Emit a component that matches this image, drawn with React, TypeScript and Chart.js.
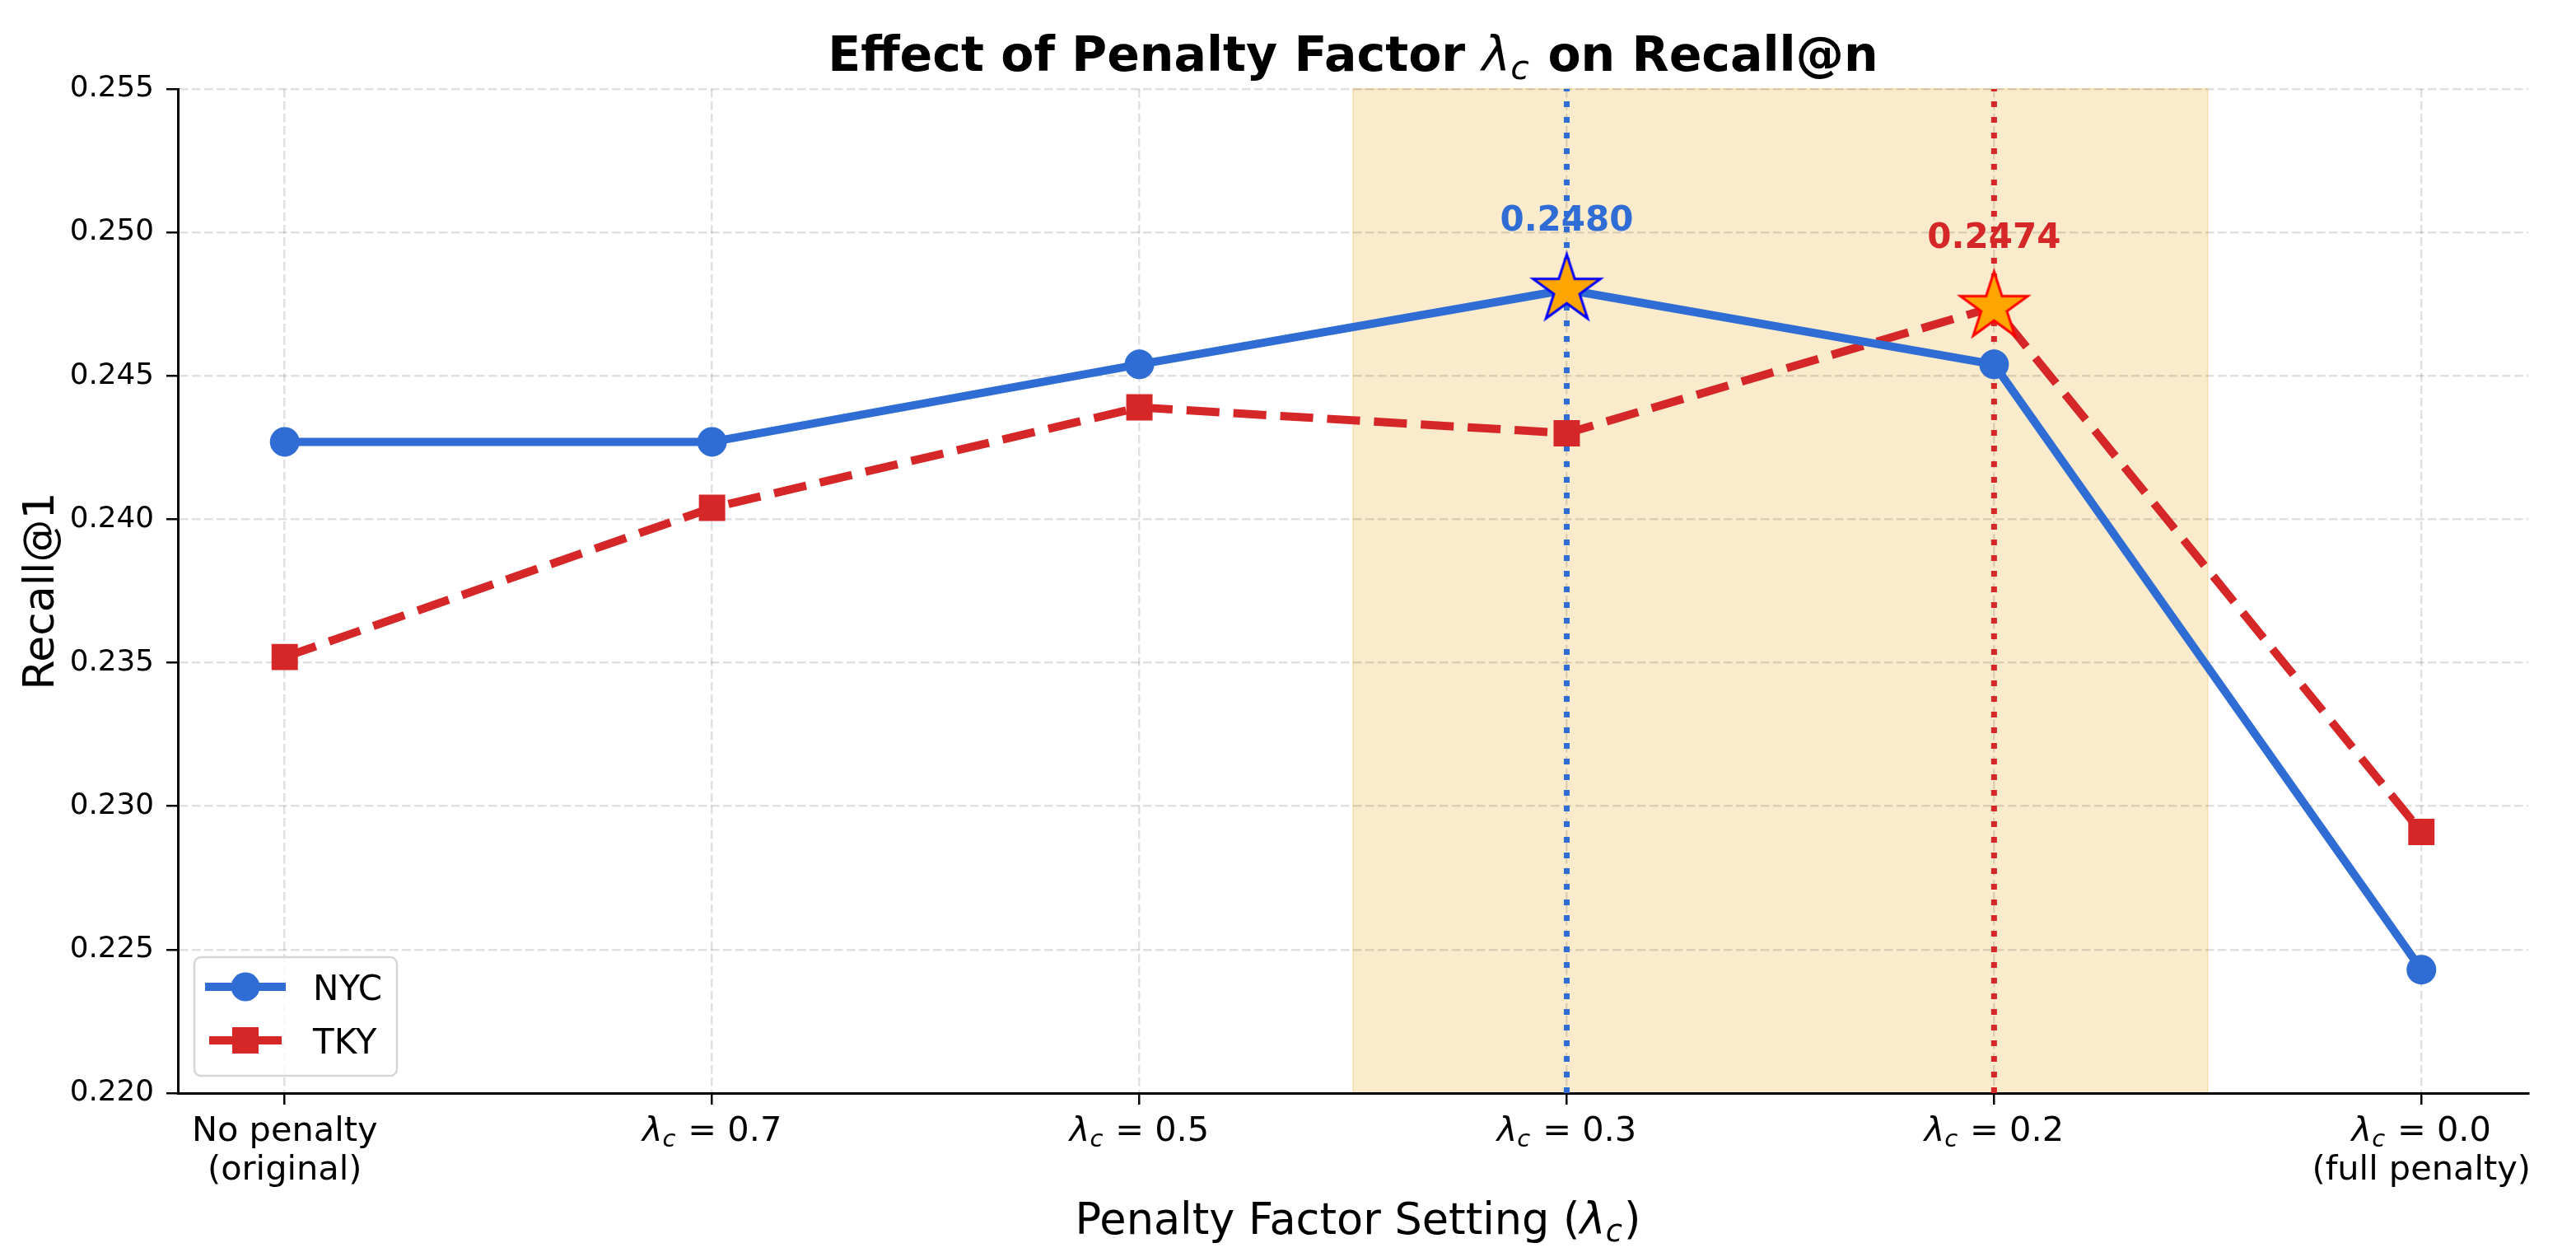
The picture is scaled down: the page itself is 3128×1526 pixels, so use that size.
import React, { useEffect, useRef } from 'react';
import { Chart, registerables } from 'chart.js';

Chart.register(...registerables);

// ---- data ----
const xPositions = [0, 1, 2, 3, 4, 5];
const xTickLabels = [
    'No penalty\n(original)',
    'λ_c = 0.7',
    'λ_c = 0.5',
    'λ_c = 0.3',
    'λ_c = 0.2',
    'λ_c = 0.0\n(full penalty)'
];
const nycRecall = [0.2427, 0.2427, 0.2454, 0.2480, 0.2454, 0.2243];
const tkyRecall = [0.2352, 0.2404, 0.2439, 0.2430, 0.2474, 0.2291];
const yTicks = [0.220, 0.225, 0.230, 0.235, 0.240, 0.245, 0.250, 0.255];
const shadedRange = [2.5, 4.5];

const BLUE = '#2f6cd3';
const RED = '#d62728';
const FONT = '"DejaVu Sans", "Noto Sans", sans-serif';

const W = 3128;
const H = 1526;

type Seg = { t: string; it?: boolean; sub?: boolean };

// split "λ_c" into italic lambda + italic subscript c
function parseMath(s: string): Seg[] {
    const out: Seg[] = [];
    s.split(/(λ_c)/).forEach((p) => {
        if (p === 'λ_c') {
            out.push({ t: 'λ', it: true });
            out.push({ t: 'c', it: true, sub: true });
        } else if (p) {
            out.push({ t: p });
        }
    });
    return out;
}

function drawRich(
    ctx: CanvasRenderingContext2D,
    text: string,
    x: number,
    y: number,
    size: number,
    weight: string,
    color: string
) {
    const segs = parseMath(text);
    const fontOf = (s: Seg) =>
        `${s.it ? 'italic ' : ''}${s.it ? 'normal' : weight} ${s.sub ? size * 0.7 : size}px ${FONT}`;
    const widths = segs.map((s) => {
        ctx.font = fontOf(s);
        return ctx.measureText(s.t).width + (s.sub ? size * 0.04 : 0);
    });
    const total = widths.reduce((a, b) => a + b, 0);
    let cx = x - total / 2;
    ctx.fillStyle = color;
    ctx.textAlign = 'left';
    ctx.textBaseline = 'alphabetic';
    segs.forEach((s, i) => {
        ctx.font = fontOf(s);
        ctx.fillText(s.t, cx, y + (s.sub ? size * 0.17 : 0));
        cx += widths[i];
    });
}

function makeStar(edge: string): HTMLCanvasElement {
    const c = document.createElement('canvas');
    c.width = 100;
    c.height = 100;
    const g = c.getContext('2d')!;
    const R = 43;
    const r = R * 0.381966;
    g.beginPath();
    for (let k = 0; k < 10; k++) {
        const rad = k % 2 === 0 ? R : r;
        const a = -Math.PI / 2 + (k * Math.PI) / 5;
        const px = 50 + rad * Math.cos(a);
        const py = 50 + rad * Math.sin(a);
        if (k === 0) g.moveTo(px, py);
        else g.lineTo(px, py);
    }
    g.closePath();
    g.fillStyle = '#FFA500';
    g.fill();
    g.lineWidth = 3;
    g.lineJoin = 'miter';
    g.strokeStyle = edge;
    g.stroke();
    return c;
}

const argmax = (arr: number[]) => arr.indexOf(Math.max(...arr));

export default function App() {
    const canvasRef = useRef<HTMLCanvasElement>(null);
    const chartRef = useRef<Chart | null>(null);

    useEffect(() => {
        if (!canvasRef.current) return;
        if (chartRef.current) chartRef.current.destroy();
        const ctx = canvasRef.current.getContext('2d');
        if (!ctx) return;

        const nycBest = argmax(nycRecall);
        const tkyBest = argmax(tkyRecall);
        const starBlue = makeStar('#0000ff');
        const starRed = makeStar('#ff0000');

        // shaded band, under the grid
        const spanPlugin = {
            id: 'span',
            beforeDraw(chart: any) {
                const { ctx: c, chartArea: a, scales } = chart;
                const x1 = scales.x.getPixelForValue(shadedRange[0]);
                const x2 = scales.x.getPixelForValue(shadedRange[1]);
                c.save();
                c.fillStyle = '#ffffff';
                c.fillRect(0, 0, chart.width, chart.height);
                c.fillStyle = 'rgba(240, 190, 90, 0.3)';
                c.fillRect(x1, a.top, x2 - x1, a.bottom - a.top);
                c.strokeStyle = 'rgba(240, 190, 90, 0.3)';
                c.lineWidth = 2;
                c.strokeRect(x1, a.top, x2 - x1, a.bottom - a.top);
                c.restore();
            },
            beforeDatasetsDraw(chart: any) {
                const { ctx: c, chartArea: a, scales } = chart;
                const vlines: [number, string][] = [
                    [xPositions[nycBest], BLUE],
                    [xPositions[tkyBest], RED]
                ];
                c.save();
                c.lineWidth = 7;
                c.setLineDash([7, 12]);
                vlines.forEach(([v, col]) => {
                    const px = scales.x.getPixelForValue(v);
                    c.strokeStyle = col;
                    c.beginPath();
                    c.moveTo(px, a.bottom);
                    c.lineTo(px, a.top);
                    c.stroke();
                });
                c.restore();
            }
        };

        // texts, annotations and legend
        const textPlugin = {
            id: 'texts',
            afterDraw(chart: any) {
                const { ctx: c, chartArea: a, scales } = chart;
                const cx = (a.left + a.right) / 2;
                c.save();

                drawRich(c, 'Effect of Penalty Factor λ_c on Recall@n', cx, 86, 58.5, 'bold', '#000');
                drawRich(c, 'Penalty Factor Setting (λ_c)', cx + 6, 1498, 52.5, 'normal', '#000');

                xTickLabels.forEach((lab, i) => {
                    const px = scales.x.getPixelForValue(xPositions[i]);
                    lab.split('\n').forEach((line, j) => {
                        drawRich(c, line, px, 1385 + j * 47, 41.5, 'normal', '#000');
                    });
                });

                // y label
                c.save();
                c.translate(65, (a.top + a.bottom) / 2);
                c.rotate(-Math.PI / 2);
                c.font = `52px ${FONT}`;
                c.textAlign = 'center';
                c.textBaseline = 'alphabetic';
                c.fillStyle = '#000';
                c.fillText('Recall@1', 0, 0);
                c.restore();

                // best-value annotations
                const notes: [number, number, string][] = [
                    [xPositions[nycBest], nycRecall[nycBest], BLUE],
                    [xPositions[tkyBest], tkyRecall[tkyBest], RED]
                ];
                notes.forEach(([xv, yv, col]) => {
                    const px = scales.x.getPixelForValue(xv);
                    const py = scales.y.getPixelForValue(yv);
                    drawRich(c, yv.toFixed(4), px, py - 72, 42, 'bold', col);
                });

                // legend
                const lx = 236, ly = 1162, lw = 246, lh = 144;
                c.beginPath();
                c.roundRect(lx, ly, lw, lh, 8);
                c.fillStyle = 'rgba(255,255,255,0.8)';
                c.fill();
                c.lineWidth = 2.5;
                c.strokeStyle = '#d6d6d6';
                c.stroke();

                const rows: [string, string, boolean, number][] = [
                    ['NYC', BLUE, false, 1198],
                    ['TKY', RED, true, 1263]
                ];
                rows.forEach(([name, col, dashed, y]) => {
                    c.save();
                    c.strokeStyle = col;
                    c.lineWidth = 10;
                    c.lineCap = dashed ? 'butt' : 'square';
                    c.setLineDash(dashed ? [40, 17] : []);
                    c.beginPath();
                    c.moveTo(254, y);
                    c.lineTo(342, y);
                    c.stroke();
                    c.restore();
                    c.fillStyle = col;
                    if (dashed) {
                        c.fillRect(298 - 16, y - 16, 32, 32);
                    } else {
                        c.beginPath();
                        c.arc(298, y, 17.5, 0, Math.PI * 2);
                        c.fill();
                    }
                    c.fillStyle = '#000';
                    c.font = `42px ${FONT}`;
                    c.textAlign = 'left';
                    c.textBaseline = 'alphabetic';
                    c.fillText(name, 380, y + 16);
                });

                c.restore();
            }
        };

        const gridOpts = {
            color: 'rgba(0,0,0,0.12)',
            lineWidth: 2.5,
            drawTicks: true,
            tickLength: 14,
            tickColor: '#000',
            tickWidth: 2.5
        };
        const borderOpts = { display: true, color: '#000', width: 3, dash: [10.5, 4.5] };

        chartRef.current = new Chart(ctx, {
            type: 'line',
            data: {
                datasets: [
                    {
                        label: 'NYC',
                        data: xPositions.map((x, i) => ({ x, y: nycRecall[i] })),
                        borderColor: BLUE,
                        backgroundColor: BLUE,
                        borderWidth: 10,
                        borderJoinStyle: 'round',
                        pointStyle: nycRecall.map((_, i) => (i === nycBest ? starBlue : 'circle')) as any,
                        pointRadius: 18,
                        pointBackgroundColor: BLUE,
                        pointBorderColor: BLUE,
                        pointBorderWidth: 0,
                        tension: 0
                    },
                    {
                        label: 'TKY',
                        data: xPositions.map((x, i) => ({ x, y: tkyRecall[i] })),
                        borderColor: RED,
                        backgroundColor: RED,
                        borderWidth: 10,
                        borderDash: [40, 17],
                        borderJoinStyle: 'round',
                        pointStyle: tkyRecall.map((_, i) => (i === tkyBest ? starRed : 'rect')) as any,
                        pointRadius: 22.6,
                        pointBackgroundColor: RED,
                        pointBorderColor: RED,
                        pointBorderWidth: 0,
                        tension: 0
                    }
                ]
            },
            options: {
                animation: false,
                responsive: false,
                devicePixelRatio: 1,
                events: [],
                layout: { padding: { top: 108, right: 58, left: 0, bottom: 0 } },
                plugins: {
                    legend: { display: false },
                    title: { display: false },
                    tooltip: { enabled: false }
                },
                scales: {
                    x: {
                        type: 'linear',
                        min: -0.25,
                        max: 5.25,
                        afterBuildTicks: (axis: any) => {
                            axis.ticks = xPositions.map((v) => ({ value: v }));
                        },
                        afterFit: (s: any) => {
                            s.height = H - 1327;
                        },
                        ticks: { display: false },
                        grid: gridOpts,
                        border: borderOpts
                    },
                    y: {
                        type: 'linear',
                        min: 0.22,
                        max: 0.255,
                        afterBuildTicks: (axis: any) => {
                            axis.ticks = yTicks.map((v) => ({ value: v }));
                        },
                        afterFit: (s: any) => {
                            s.width = 216;
                        },
                        ticks: {
                            callback: (v: any) => Number(v).toFixed(3),
                            font: { family: FONT, size: 35.75 },
                            color: '#000',
                            padding: 15
                        },
                        grid: gridOpts,
                        border: borderOpts
                    }
                }
            } as any,
            plugins: [spanPlugin, textPlugin]
        });

        return () => {
            if (chartRef.current) {
                chartRef.current.destroy();
                chartRef.current = null;
            }
        };
    }, []);

    return (
        <div style={{ position: 'absolute', left: 0, top: 0, width: W, height: H, background: '#fff' }}>
            <canvas ref={canvasRef} width={W} height={H} style={{ display: 'block', width: W, height: H }} />
        </div>
    );
}
